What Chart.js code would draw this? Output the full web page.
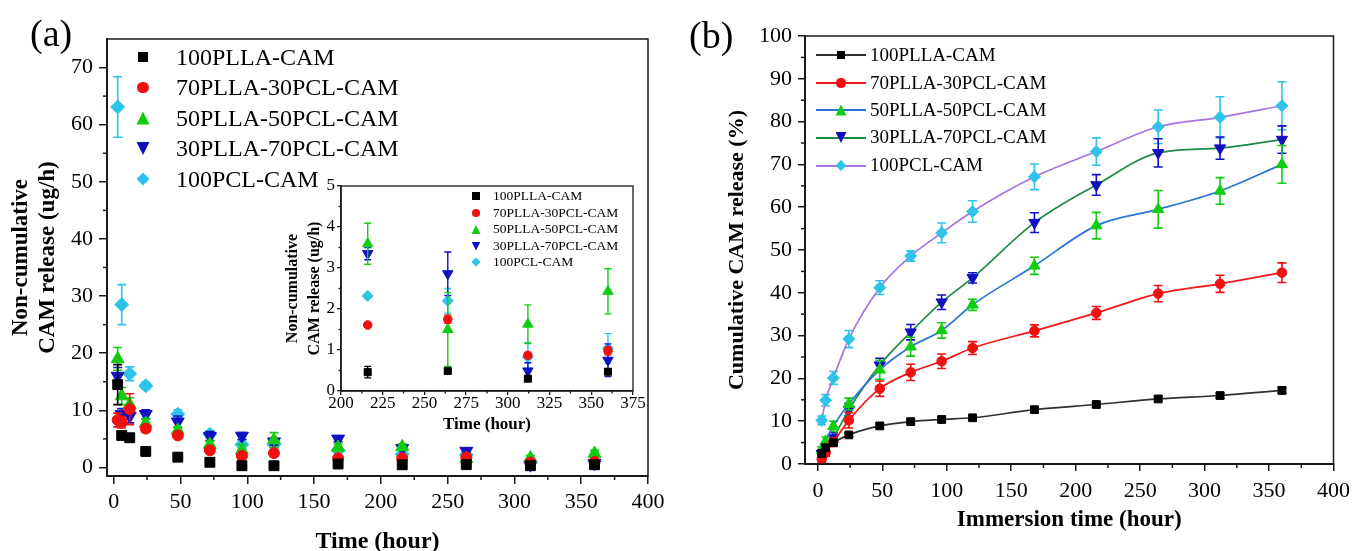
<!DOCTYPE html>
<html>
<head>
<meta charset="utf-8">
<script src="https://cdn.jsdelivr.net/npm/chart.js@4.4.1/dist/chart.umd.min.js"></script>
<style>
html,body{margin:0;padding:0;background:#fff;width:1357px;height:551px;overflow:hidden;position:relative;}
.box{position:absolute;}
.lbl{position:absolute;font-family:"Liberation Serif","Times New Roman",serif;color:#000;white-space:nowrap;}
.mk{position:absolute;}
</style>
</head>
<body>
<div class="box" style="left:0;top:0;width:680px;height:560px"><canvas id="ca" width="680" height="560"></canvas></div>
<div class="box" style="left:680px;top:0;width:677px;height:560px"><canvas id="cb" width="677" height="560"></canvas></div>
<div class="box" style="left:260px;top:170px;width:390px;height:270px"><canvas id="ci" width="390" height="270"></canvas></div>
<div class="lbl" style="left:30px;top:13px;font-size:38px;line-height:40px">(a)</div>
<div class="lbl" style="left:689px;top:15px;font-size:38px;line-height:40px">(b)</div>
<div id="legA"></div>
<div id="legB"></div>
<div id="legI"></div>
<script>
// ---------------- DATA ----------------
const hours = [3, 6, 12, 24, 48, 72, 96, 120, 168, 216, 264, 312, 360];
const seriesNames = ['100PLLA-CAM', '70PLLA-30PCL-CAM', '50PLLA-50PCL-CAM', '30PLLA-70PCL-CAM', '100PCL-CAM'];

// (a) non-cumulative release (ug/h) and error (SD)
const rateA_100PLLA  = [14.5, 5.6, 5.2, 2.8, 1.8, 0.9, 0.3, 0.3, 0.6, 0.46, 0.49, 0.30, 0.47];
const rateA_70PLLA   = [8.3, 7.9, 10.2, 6.8, 5.6, 3.0, 2.0, 2.5, 1.6, 1.61, 1.75, 0.87, 0.98];
const rateA_50PLLA   = [19.0, 12.5, 11.0, 7.7, 6.5, 4.0, 3.0, 4.8, 3.5, 3.59, 1.50, 1.63, 2.43];
const rateA_30PLLA   = [16.0, 9.3, 9.0, 9.3, 8.0, 5.5, 5.5, 4.5, 5.0, 3.35, 2.86, 0.49, 0.75];
const rateA_100PCL   = [63.1, 28.5, 16.4, 14.3, 9.3, 5.8, 4.0, 4.0, 3.0, 2.32, 2.20, 0.83, 1.04];
const errA_100PLLA   = [3.5, 0.5, 0.5, 0.5, 0.5, 0.4, 0.3, 0.3, 0.2, 0.14, 0.06, 0.06, 0.06];
const errA_70PLLA    = [1.2, 1.0, 2.7, 0.6, 0.5, 0.4, 0.4, 0.5, 0.3, 0.05, 0.10, 0.06, 0.10];
const errA_50PLLA    = [2.0, 1.5, 1.2, 0.8, 0.6, 0.6, 1.0, 1.3, 0.6, 0.50, 0.90, 0.47, 0.55];
const errA_30PLLA    = [1.5, 1.0, 1.2, 0.8, 1.0, 0.8, 0.6, 0.6, 0.5, 0.15, 0.53, 0.20, 0.40];
const errA_100PCL    = [5.3, 3.5, 1.2, 0.6, 0.8, 0.6, 0.8, 0.6, 0.5, 0.05, 0.30, 0.35, 0.36];

// (b) cumulative release (%) and error
const cumB_100PLLA = [2.5, 3.8, 5.0, 6.8, 8.9, 9.9, 10.4, 10.8, 12.7, 13.9, 15.2, 16.0, 17.2];
const cumB_70PLLA  = [1.2, 2.6, 5.1, 10.2, 17.6, 21.4, 24.0, 27.1, 31.1, 35.3, 39.8, 42.1, 44.7];
const cumB_50PLLA  = [3.2, 5.3, 8.8, 14.0, 22.0, 27.4, 31.2, 37.2, 46.3, 55.7, 59.5, 63.8, 70.0];
const cumB_30PLLA  = [2.4, 3.9, 6.2, 12.7, 23.1, 30.8, 37.8, 43.5, 56.4, 65.2, 72.7, 73.8, 75.8];
const cumB_100PCL  = [10.2, 14.9, 20.1, 29.2, 41.2, 48.6, 54.0, 59.0, 67.1, 73.0, 78.8, 81.0, 83.7];
const errB_100PLLA = [0.4, 0.4, 0.5, 0.5, 0.5, 0.5, 0.5, 0.5, 0.6, 0.6, 0.6, 0.6, 0.7];
const errB_70PLLA  = [0.8, 0.8, 1.0, 1.8, 1.8, 1.9, 1.7, 1.5, 1.4, 1.5, 1.9, 2.0, 2.3];
const errB_50PLLA  = [0.8, 1.0, 1.2, 1.4, 2.2, 2.2, 1.8, 1.3, 2.0, 3.1, 4.4, 3.1, 4.4];
const errB_30PLLA  = [1.0, 1.0, 1.2, 1.5, 1.6, 1.8, 1.7, 1.2, 2.3, 2.4, 3.3, 2.6, 3.2];
const errB_100PCL  = [1.0, 1.3, 1.5, 2.0, 1.6, 1.2, 2.3, 2.5, 3.0, 3.2, 3.9, 4.8, 5.6];

// inset shows the (a) data from 216 h on
const insetStart = 9;

// tick labels
const ticksA_x = [0, 50, 100, 150, 200, 250, 300, 350, 400];
const ticksA_y = [0, 10, 20, 30, 40, 50, 60, 70];
const ticksB_x = [0, 50, 100, 150, 200, 250, 300, 350, 400];
const ticksB_y = [0, 10, 20, 30, 40, 50, 60, 70, 80, 90, 100];
const ticksI_x = [200, 225, 250, 275, 300, 325, 350, 375];
const ticksI_y = [0, 1, 2, 3, 4, 5];

// ---------------- STYLE ----------------
const FONT = '"Liberation Serif", "Times New Roman", serif';
const markerColors = ['#000000', '#f01010', '#12cc12', '#1010c0', '#2ec4ea'];
const lineColors = ['#303030', '#f01818', '#2b74d8', '#1f8a48', '#a774e2'];
const pointStyles = ['rect', 'circle', 'triangle', 'triangle', 'rectRot'];
const pointRots = [0, 0, 0, 180, 0];

const valsA = [rateA_100PLLA, rateA_70PLLA, rateA_50PLLA, rateA_30PLLA, rateA_100PCL];
const errsA = [errA_100PLLA, errA_70PLLA, errA_50PLLA, errA_30PLLA, errA_100PCL];
const valsB = [cumB_100PLLA, cumB_70PLLA, cumB_50PLLA, cumB_30PLLA, cumB_100PCL];
const errsB = [errB_100PLLA, errB_70PLLA, errB_50PLLA, errB_30PLLA, errB_100PCL];

const errorBarPlugin = {
  id: 'errorBars',
  beforeDatasetDraw(chart, args, opts) {
    const ds = chart.data.datasets[args.index];
    if (!ds.errors) return;
    const xs = chart.scales.x, ys = chart.scales.y, ctx = chart.ctx;
    ctx.save();
    ctx.strokeStyle = ds.pointBackgroundColor;
    ctx.lineWidth = opts.width;
    ds.data.forEach((p, i) => {
      const e = ds.errors[i];
      if (!e) return;
      const x = xs.getPixelForValue(p.x);
      const y1 = ys.getPixelForValue(p.y - e), y2 = ys.getPixelForValue(p.y + e);
      const c = opts.cap;
      ctx.beginPath();
      ctx.moveTo(x, y1); ctx.lineTo(x, y2);
      ctx.moveTo(x - c, y1); ctx.lineTo(x + c, y1);
      ctx.moveTo(x - c, y2); ctx.lineTo(x + c, y2);
      ctx.stroke();
    });
    ctx.restore();
  }
};

const framePlugin = {
  id: 'frame',
  afterDraw(chart, args, opts) {
    const ctx = chart.ctx, a = chart.chartArea;
    ctx.save();
    ctx.strokeStyle = '#1a1a1a';
    ctx.lineWidth = opts.width;
    ctx.strokeRect(a.left, a.top, a.right - a.left, a.bottom - a.top);
    // minor ticks at midpoints between major ticks
    ['x', 'y'].forEach(id => {
      const s = chart.scales[id];
      const vals = s.ticks.map(t => t.value);
      for (let i = 0; i < vals.length - 1; i++) {
        const v = (vals[i] + vals[i + 1]) / 2;
        const p = s.getPixelForValue(v);
        ctx.beginPath();
        if (id === 'x') { ctx.moveTo(p, a.bottom); ctx.lineTo(p, a.bottom + opts.minor); }
        else { ctx.moveTo(a.left, p); ctx.lineTo(a.left - opts.minor, p); }
        ctx.stroke();
      }
    });
    ctx.restore();
  }
};

function makeAxis(o) {
  return {
    type: 'linear', min: o.min, max: o.max,
    afterBuildTicks: s => { s.ticks = o.ticks.map(v => ({ value: v })); },
    afterFit: s => { if (o.w) s.width = o.w; if (o.h) s.height = o.h; },
    ticks: { font: { family: FONT, size: o.fs, lineHeight: o.flh || 1.2 }, color: '#000', padding: o.tp, autoSkip: false, maxRotation: 0, minRotation: 0 },
    grid: { display: true, drawOnChartArea: false, drawTicks: true, tickLength: o.tl, color: '#1a1a1a', lineWidth: o.lw },
    border: { display: true, color: '#1a1a1a', width: o.bw },
    title: { display: true, text: o.title, color: '#000', font: { family: FONT, size: o.tfs, weight: 'bold', lineHeight: o.tlh || 1.2 }, padding: o.tpad }
  };
}

function pointsOf(vals, from) {
  return hours.slice(from || 0).map((h, i) => ({ x: h, y: vals[(from || 0) + i] }));
}

function scatterSets(vals, errs, radii, from, withLine) {
  return seriesNames.map((n, k) => ({
    label: n,
    data: pointsOf(vals[k], from),
    errors: errs[k].slice(from || 0),
    showLine: !!withLine,
    borderColor: withLine ? lineColors[k] : markerColors[k],
    borderWidth: withLine ? 1.7 : 0,
    cubicInterpolationMode: 'monotone',
    pointStyle: pointStyles[k],
    rotation: pointRots[k],
    pointRadius: radii[k],
    pointBackgroundColor: markerColors[k],
    pointBorderColor: markerColors[k],
    pointBorderWidth: 1
  }));
}

const baseOpts = {
  responsive: false, animation: false, devicePixelRatio: 1,
  events: []
};

// Panel (a)
new Chart(document.getElementById('ca'), {
  type: 'scatter',
  data: { datasets: scatterSets(valsA, errsA, [7, 5.5, 7.5, 7.5, 7], 0, false) },
  options: Object.assign({}, baseOpts, {
    layout: { padding: { left: 0, top: 39, right: 32, bottom: 0 } },
    scales: {
      x: makeAxis({ min: -5, max: 400, ticks: ticksA_x, h: 84, fs: 22, tp: 5, tl: 8, lw: 1.5, bw: 2,
        title: 'Time (hour)', tfs: 24, tpad: { top: 0, bottom: 4 } }),
      y: makeAxis({ min: -1.5, max: 75, ticks: ticksA_y, w: 107, fs: 22, tp: 6, tl: 8, lw: 1.5, bw: 2,
        title: ['Non-cumulative', 'CAM release (ug/h)'], tfs: 23, tpad: { top: 7, bottom: 0 } })
    },
    plugins: { legend: { display: false }, tooltip: { enabled: false },
      errorBars: { width: 1.6, cap: 4.5 }, frame: { width: 1.5, minor: 4 } }
  }),
  plugins: [errorBarPlugin, framePlugin]
});

// Panel (b)
new Chart(document.getElementById('cb'), {
  type: 'scatter',
  data: { datasets: scatterSets(valsB, errsB, [5.5, 4.8, 6.5, 6.5, 6], 0, true) },
  options: Object.assign({}, baseOpts, {
    layout: { padding: { left: 0, top: 36, right: 21, bottom: 0 } },
    scales: {
      x: makeAxis({ min: -10, max: 400, ticks: ticksB_x, h: 96, fs: 22, tp: 7, tl: 7, lw: 1.5, bw: 2,
        title: 'Immersion time (hour)', tfs: 23, tpad: { top: 0, bottom: 26 } }),
      y: makeAxis({ min: 0, max: 100, ticks: ticksB_y, w: 125, fs: 22, tp: 6, tl: 7, lw: 1.5, bw: 2,
        title: 'Cumulative CAM release (%)', tfs: 22, tpad: { top: 44, bottom: 0 } })
    },
    plugins: { legend: { display: false }, tooltip: { enabled: false },
      errorBars: { width: 1.6, cap: 4.5 }, frame: { width: 1.5, minor: 4 } }
  }),
  plugins: [errorBarPlugin, framePlugin]
});

// Inset
new Chart(document.getElementById('ci'), {
  type: 'scatter',
  data: { datasets: scatterSets(valsA, errsA, [5, 4.3, 6, 6, 5.5], insetStart, false) },
  options: Object.assign({}, baseOpts, {
    layout: { padding: { left: 0, top: 16, right: 17, bottom: 0 } },
    scales: {
      x: makeAxis({ min: 200, max: 375, ticks: ticksI_x, h: 49, fs: 17, flh: 1.0, tp: 0, tl: 4, lw: 1.3, bw: 1.6,
        title: 'Time (hour)', tfs: 17, tpad: { top: 0, bottom: 5 } }),
      y: makeAxis({ min: 0, max: 5, ticks: ticksI_y, w: 81, fs: 17, tp: 2, tl: 4, lw: 1.3, bw: 1.6,
        title: ['Non-cumulative', 'CAM release (ug/h)'], tfs: 16, tlh: 1.35, tpad: { top: 22, bottom: 0 } })
    },
    plugins: { legend: { display: false }, tooltip: { enabled: false },
      errorBars: { width: 1.4, cap: 3.5 }, frame: { width: 1.3, minor: 2.5 } }
  }),
  plugins: [errorBarPlugin, framePlugin]
});

// ---------------- HTML legends ----------------
function markerCss(k, size) {
  const c = markerColors[k];
  let s = 'background:' + c + ';';
  if (pointStyles[k] === 'circle') s += 'border-radius:50%;';
  if (k === 2) s += 'clip-path:polygon(50% 0,100% 100%,0 100%);';
  if (k === 3) s += 'clip-path:polygon(0 0,100% 0,50% 100%);';
  if (k === 4) s += 'clip-path:polygon(50% 0,100% 50%,50% 100%,0 50%);';
  return s;
}
const markerScale = [0.8, 0.85, 1.0, 1.0, 1.0];
function buildLegend(el, cfg) {
  let html = '';
  seriesNames.forEach((n, k) => {
    const cy = cfg.rows[k];
    const sz = cfg.size * markerScale[k];
    if (cfg.line) {
      html += '<div class="mk" style="left:' + cfg.line[0] + 'px;top:' + (cy - 1) + 'px;width:' + (cfg.line[1] - cfg.line[0]) + 'px;height:2px;background:' + lineColors[k] + '"></div>';
    }
    html += '<div class="mk" style="left:' + (cfg.mx - sz / 2) + 'px;top:' + (cy - sz / 2) + 'px;width:' + sz + 'px;height:' + sz + 'px;' + markerCss(k, sz) + '"></div>';
    html += '<div class="lbl" style="left:' + cfg.tx + 'px;top:' + (cy - cfg.fs * 0.6) + 'px;font-size:' + cfg.fs + 'px;line-height:' + (cfg.fs * 1.2) + 'px">' + n + '</div>';
  });
  el.innerHTML = html;
}
buildLegend(document.getElementById('legA'), { rows: [57, 87.5, 118, 148.5, 179], mx: 143, tx: 176, fs: 24, size: 13 });
buildLegend(document.getElementById('legB'), { rows: [55, 83, 110, 137.5, 165.5], mx: 841, tx: 870, fs: 19, size: 11, line: [816, 866] });
buildLegend(document.getElementById('legI'), { rows: [196, 213, 229.5, 246, 262], mx: 476, tx: 493, fs: 13.5, size: 9 });
</script>
</body>
</html>
